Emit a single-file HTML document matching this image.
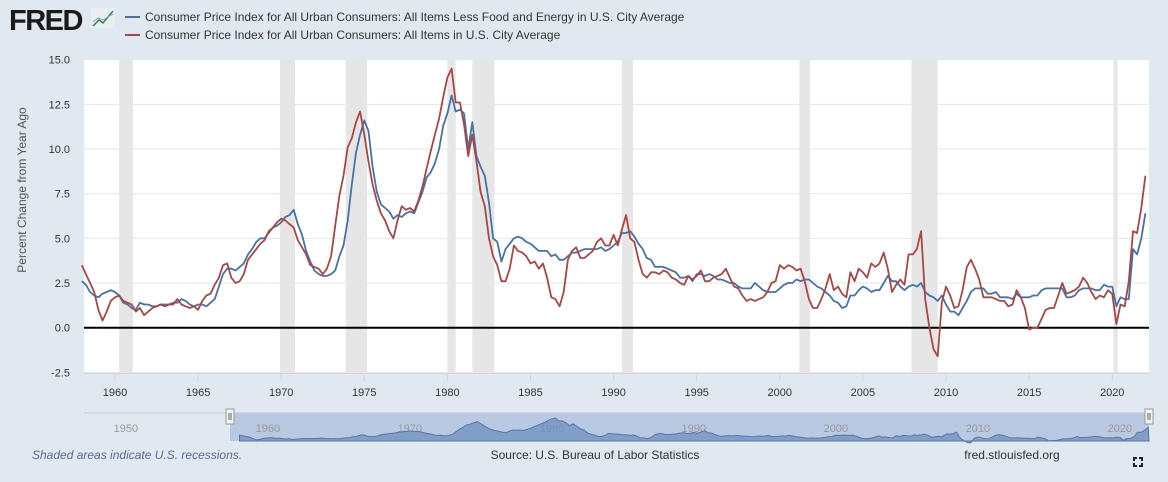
<!DOCTYPE html>
<html><head><meta charset="utf-8">
<style>
body{margin:0;width:1168px;height:482px;background:#e1e9f0;overflow:hidden;font-family:"Liberation Sans",sans-serif;}
svg{position:absolute;left:0;top:0}
</style></head>
<body>
<svg id="c" width="1168" height="482">
  <rect x="0" y="0" width="1168" height="482" fill="#e1e9f0"/>
  <g>
    <text x="9" y="30" font-size="29" font-weight="bold" fill="#1a1a1a" font-family="Liberation Sans, sans-serif" letter-spacing="-1.5">FRED</text>
    <rect x="91" y="8" width="24" height="20" fill="#e8eef3" />
    <polyline points="93,26 99,20 103,23 113,11" fill="none" stroke="#3a8a3a" stroke-width="1.5"/>
    <polyline points="93,22 98,18 103,20 113,14" fill="none" stroke="#7ea6d0" stroke-width="1"/>
  </g>
  <g>
    <g>
      <line x1="125" y1="17" x2="140" y2="17" stroke="#4572a7" stroke-width="2"/>
      <text x="145" y="21" font-size="12" fill="#333">Consumer Price Index for All Urban Consumers: All Items Less Food and Energy in U.S. City Average</text>
    </g>
    <g>
      <line x1="125" y1="35" x2="140" y2="35" stroke="#aa4643" stroke-width="2"/>
      <text x="145" y="39" font-size="12" fill="#333">Consumer Price Index for All Urban Consumers: All Items in U.S. City Average</text>
    </g>
  </g>
  <rect x="84" y="60" width="1065" height="313" fill="#fff"/>
  <g id="rec"></g>
  <g id="grid"></g>
  <g id="yt"></g>
  <g id="xt"></g>
  <text transform="translate(26,190) rotate(-90)" text-anchor="middle" font-size="12" fill="#555">Percent Change from Year Ago</text>
  <g id="series"></g>
  <g id="nav"></g>
  <text x="32" y="459" font-size="12" font-style="italic" fill="#5a6a94">Shaded areas indicate U.S. recessions.</text>
  <text x="595" y="459" text-anchor="middle" font-size="12" fill="#333">Source: U.S. Bureau of Labor Statistics</text>
  <text x="1012" y="459" text-anchor="middle" font-size="12" fill="#333">fred.stlouisfed.org</text>
  <g stroke="#222" stroke-width="2" fill="none">
    <polyline points="1134,461 1134,458 1137,458"/><polyline points="1139,458 1142,458 1142,461"/>
    <polyline points="1134,463 1134,466 1137,466"/><polyline points="1139,466 1142,466 1142,463"/>
  </g>
</svg>
<script>
const startYear = 1958;
const stepYears = 0.25;
const coreCPI = [
2.6,2.4,2.0,1.8, 1.7,1.9,2.0,2.1, 2.0,1.8,1.4,1.3, 1.1,1.0,1.4,1.3, 1.3,1.2,1.2,1.3,
1.3,1.3,1.4,1.4, 1.6,1.5,1.3,1.2, 1.3,1.3,1.2,1.4, 1.6,2.3,3.0,3.3, 3.3,3.2,3.4,3.6,
4.1,4.4,4.8,5.0, 5.0,5.3,5.6,5.7, 5.9,6.2,6.3,6.6, 5.8,5.2,4.3,3.7, 3.2,3.0,2.9,2.9,
3.0,3.2,4.0,4.6, 6.0,8.0,9.8,10.8, 11.6,11.0,9.0,7.6, 6.9,6.7,6.5,6.1, 6.3,6.2,6.4,6.5,
6.4,7.0,7.6,8.4, 8.7,9.2,10.0,11.3, 12.0,13.0,12.1,12.2, 12.0,10.0,11.5,9.6, 9.0,8.5,7.0,5.0,
4.8,3.7,4.4,4.7, 5.0,5.1,5.0,4.8, 4.7,4.5,4.3,4.3, 4.3,4.0,4.1,3.8, 3.8,4.0,4.2,4.2,
4.3,4.4,4.4,4.4, 4.4,4.5,4.3,4.4, 4.6,4.8,5.3,5.3, 5.4,5.1,4.7,4.4, 3.9,3.8,3.4,3.4,
3.4,3.3,3.2,3.1, 2.8,2.8,2.9,2.6, 3.0,3.0,2.9,3.0, 2.9,2.7,2.7,2.6, 2.5,2.5,2.3,2.2,
2.2,2.2,2.5,2.3, 2.1,2.0,2.0,2.0, 2.2,2.4,2.5,2.5, 2.7,2.6,2.7,2.7, 2.5,2.3,2.2,2.0,
1.8,1.5,1.4,1.1, 1.2,1.8,1.8,2.1, 2.3,2.2,2.0,2.1, 2.1,2.5,2.9,2.6, 2.6,2.3,2.1,2.3,
2.4,2.3,2.5,2.0, 1.8,1.7,1.5,1.8, 1.3,0.9,0.9,0.7, 1.1,1.5,2.0,2.2, 2.2,2.2,1.9,1.9,
2.0,1.7,1.7,1.7, 1.6,1.9,1.7,1.7, 1.7,1.8,1.8,2.1, 2.2,2.2,2.2,2.2, 2.2,1.7,1.7,1.8,
2.1,2.2,2.2,2.2, 2.1,2.1,2.4,2.3, 2.3,1.2,1.7,1.6, 1.6,4.4,4.1,5.0, 6.4];
const allItemsCPI = [
3.5,3.0,2.5,2.0, 1.0,0.4,0.9,1.5, 1.7,1.8,1.5,1.4, 1.3,0.9,1.1,0.7, 0.9,1.1,1.2,1.3,
1.2,1.3,1.3,1.6, 1.3,1.2,1.1,1.2, 1.0,1.5,1.8,1.9, 2.4,2.8,3.5,3.6, 2.8,2.5,2.6,3.0,
3.8,4.1,4.4,4.7, 4.9,5.4,5.6,5.9, 6.1,6.0,5.8,5.6, 4.9,4.5,4.1,3.5, 3.4,3.3,3.0,3.3,
4.0,5.7,7.4,8.5, 10.1,10.6,11.5,12.1, 10.8,9.3,8.0,7.1, 6.4,6.0,5.4,5.0, 6.0,6.8,6.6,6.7,
6.5,7.1,7.9,8.9, 9.9,10.8,11.7,12.9, 14.0,14.5,12.6,12.6, 11.4,9.6,10.8,9.3, 7.6,6.8,5.0,4.0,
3.5,2.6,2.6,3.3, 4.6,4.3,4.2,4.0, 3.6,3.7,3.3,3.6, 2.8,1.7,1.6,1.2, 2.0,3.8,4.3,4.5,
3.9,3.9,4.1,4.3, 4.8,5.0,4.6,4.6, 5.2,4.6,5.5,6.3, 5.0,4.8,3.8,3.0, 2.8,3.1,3.1,3.0,
3.2,3.1,2.8,2.7, 2.5,2.4,2.9,2.7, 2.9,3.2,2.6,2.6, 2.8,2.9,3.0,3.3, 2.8,2.3,2.2,1.8,
1.5,1.6,1.5,1.6, 1.7,2.0,2.5,2.6, 3.5,3.3,3.5,3.4, 3.2,3.3,2.6,1.6, 1.1,1.1,1.6,2.2,
3.0,2.1,2.3,1.9, 1.7,3.1,2.6,3.3, 3.1,2.8,3.6,3.4, 3.6,4.2,3.3,2.0, 2.4,2.7,2.4,4.1,
4.1,4.4,5.4,1.6, 0.0,-1.2,-1.6,1.4, 2.3,1.8,1.1,1.2, 2.1,3.4,3.8,3.3, 2.7,1.7,1.7,1.7,
1.6,1.5,1.5,1.2, 1.3,2.1,1.7,1.1, -0.1,0.0,0.0,0.5, 1.0,1.1,1.1,1.8, 2.5,1.9,2.0,2.1,
2.3,2.8,2.5,2.0, 1.6,1.8,1.7,2.1, 1.9,0.2,1.3,1.2, 2.6,5.4,5.3,6.7, 8.5];
const recStart = [1960.25,1969.92,1973.88,1980.0,1981.5,1990.5,2001.17,2007.92,2020.08];
const recEnd   = [1961.08,1970.83,1975.17,1980.5,1982.83,1991.17,2001.83,2009.5,2020.33];
const yTicks = [-2.5,0,2.5,5,7.5,10,12.5,15];
const yTickLabels = ["-2.5","0.0","2.5","5.0","7.5","10.0","12.5","15.0"];
const xTicks = [1960,1965,1970,1975,1980,1985,1990,1995,2000,2005,2010,2015,2020];
const navTicks = [1950,1960,1970,1980,1990,2000,2010,2020];

const NS='http://www.w3.org/2000/svg';
function mk(tag, attrs, parent){const e=document.createElementNS(NS,tag);for(const k in attrs)e.setAttribute(k,attrs[k]);parent.appendChild(e);return e;}
const X0=84,X1=1149,Y0=60,Y1=373;
const xs = yr => 115 + (yr-1960)*16.62;
const ys = v => 327.7 - v*17.87;
const nxs = yr => 84 + (yr-1947.05)*14.2;
const nys = v => 440.5 - v*1.55;

const rec=document.getElementById('rec');
recStart.forEach((s,i)=>{
  const r=mk('rect',{x:xs(s),y:Y0,width:xs(recEnd[i])-xs(s),height:Y1-Y0,fill:'#e6e6e6'},rec);
  
  
});
const grid=document.getElementById('grid'), yt=document.getElementById('yt');
yTicks.forEach((v,i)=>{
  if(v!==0){const l=mk('line',{x1:X0,x2:X1,y1:ys(v),y2:ys(v),stroke:'#e6e6e6','stroke-width':1},grid);
  
  }
  const t=mk('text',{x:70,y:ys(v)+4,'text-anchor':'end','font-size':11,fill:'#333'},yt);
  t.textContent=yTickLabels[i];
  
  
});
const xt=document.getElementById('xt');
mk('line',{x1:X0,x2:X1,y1:Y1+0.5,y2:Y1+0.5,stroke:'#ccd6eb'},xt);
xTicks.forEach(yr=>{
  mk('line',{x1:xs(yr),x2:xs(yr),y1:Y1,y2:Y1+8,stroke:'#ccd6eb'},xt);
  const t=mk('text',{x:xs(yr),y:396,'text-anchor':'middle','font-size':11,fill:'#333'},xt);
  t.textContent=yr;
  
  
});
const ser=document.getElementById('series');
const zl=mk('line',{x1:X0,x2:X1,y1:ys(0),y2:ys(0),stroke:'#000','stroke-width':2},ser);


function pts(arr,fx,fy){return arr.map((v,i)=>fx(startYear+i*stepYears).toFixed(1)+','+fy(v).toFixed(1)).join(' ');}
const lb=mk('polyline',{points:pts(coreCPI,xs,ys),fill:'none',stroke:'#4572a7','stroke-width':1.8,'stroke-linejoin':'round'},ser);


const lr=mk('polyline',{points:pts(allItemsCPI,xs,ys),fill:'none',stroke:'#aa4643','stroke-width':1.8,'stroke-linejoin':'round'},ser);



const nav=document.getElementById('nav');
mk('line',{x1:X0,x2:X1,y1:413,y2:413,stroke:'#ccc'},nav);
const sx=230, ex=X1;
const sel=mk('rect',{x:sx,y:413,width:ex-sx,height:28,fill:'#b8c9e1'},nav);


navTicks.forEach(yr=>{
  const t=mk('text',{x:nxs(yr),y:432,'text-anchor':'middle','font-size':11,fill:'#999'},nav);
  t.textContent=yr;
  
  
});
const np=pts(allItemsCPI,nxs,nys);
const area=mk('polygon',{points:nxs(startYear)+',441 '+np+' '+ex+',441',fill:'#6f8fbf','fill-opacity':0.75,stroke:'#5577aa','stroke-width':1},nav);


[sx,ex].forEach((hx,i)=>{
  const h=mk('rect',{x:hx-4,y:409,width:8,height:15,fill:'#f2f2f2',stroke:'#999'},nav);
  
  
  mk('line',{x1:hx-1,x2:hx-1,y1:413,y2:420,stroke:'#666'},nav);
  mk('line',{x1:hx+1,x2:hx+1,y1:413,y2:420,stroke:'#666'},nav);
});
</script>
</body></html>
